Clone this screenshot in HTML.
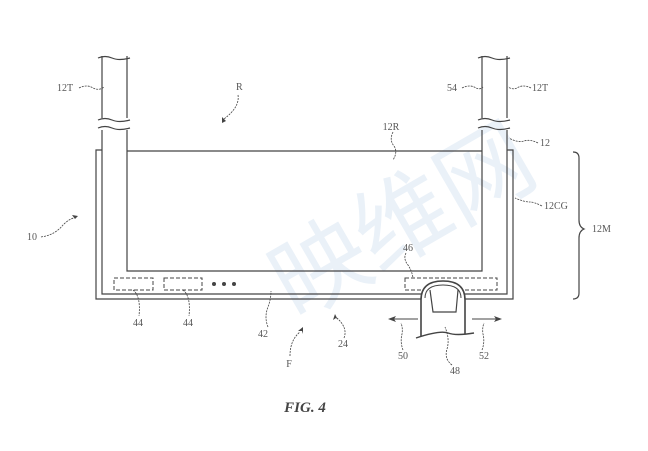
<!DOCTYPE html>
<html><head><meta charset="utf-8"><style>html,body{margin:0;padding:0;background:#fff}svg{display:block}</style></head>
<body>
<svg width="648" height="451" viewBox="0 0 648 451" xmlns="http://www.w3.org/2000/svg" font-family="Liberation Serif, serif" fill="#555" font-size="10">
<text x="250" y="290" font-family="Noto Sans CJK SC, sans-serif" font-size="95" fill="#eaf1f8" transform="rotate(-30 330 220)">映维网</text>
<g fill="none" stroke="#444" stroke-width="1.2">
<path d="M102 150 H96 V299 H513 V150 H507"/>
<path d="M102 130 V294 H507 V130"/>
<path d="M102 118 V56 M507 118 V56"/>
<path d="M127 130 V271 H482 V130 M127 118 V56 M482 118 V56"/>
<path d="M127 151 H482"/>
<path d="M98 58 q7 -3 14 0 t18 0"/>
<path d="M98 120 q7 -3 14 0 t18 0"/>
<path d="M98 128 q7 -3 14 0 t18 0"/>
<path d="M478 58 q7 -3 14 0 t18 0"/>
<path d="M478 120 q7 -3 14 0 t18 0"/>
<path d="M478 128 q7 -3 14 0 t18 0"/>
<g stroke-dasharray="4 2" stroke-width="1">
<rect x="114" y="278" width="39" height="12"/>
<rect x="164" y="278" width="38" height="12"/>
<rect x="405" y="278" width="92" height="12"/>
</g>
<path d="M421 336 V300 Q421 281 443 281 Q465 281 465 300 V334" fill="#fff" stroke-width="1.6"/>
<path d="M425 298 Q425 285 443 285 Q461 285 461 298" stroke-width="1"/>
<path d="M430 290 L433 312 H456 L458 290" stroke-width="1.2"/>
<path d="M416 338 Q440 330 448 333 T474 333" stroke-width="1.4"/>
<path d="M573 152 q6 0 6 6 V220 q0 7 5 9 q-5 2 -5 9 V293 q0 6 -6 6"/>
<g stroke-width="0.8" stroke-dasharray="2 1">
<path d="M79 88 q8 -4 14 0 q6 3 11 -1"/>
<path d="M462 88 q8 -4 14 0 q4 2 7 -1"/>
<path d="M531 88 q-8 -4 -14 0 q-4 2 -9 -1"/>
<path d="M538 143 q-8 -4 -14 -2 q-6 2 -15 -3"/>
<path d="M542 206 q-8 -4 -12 -4 q-6 0 -15 -4"/>
<path d="M238 95 q2 12 -14 24"/>
<path d="M41 237 q14 -2 22 -12 q6 -6 11 -7"/>
<path d="M393 132 q-4 8 1 14 q4 6 -1 14"/>
<path d="M406 253 q-3 6 2 12 q4 6 5 13"/>
<path d="M133 290 q8 6 6 26"/>
<path d="M183 290 q8 6 6 26"/>
<path d="M268 327 q-4 -10 0 -20 q3 -8 3 -16"/>
<path d="M290 356 q0 -16 10 -24"/>
<path d="M344 338 q4 -10 -7 -20"/>
<path d="M403 350 q-3 -8 -1 -16 q1 -6 -1 -11"/>
<path d="M482 350 q3 -8 1 -16 q-1 -6 1 -11"/>
<path d="M452 365 q-8 -6 -5 -16 q3 -10 -2 -22"/>
</g>
<path d="M418 319 H392 M472 319 H498" stroke-width="1"/>
</g>
<g fill="#444">
<path d="M388 319 l8 -3 l-2 3 l2 3z"/>
<path d="M502 319 l-8 -3 l2 3 l-2 3z"/>
<path d="M222 123 l0 -6 l4 4z"/>
<path d="M78 216 l-6 -1 l3 4z"/>
<path d="M303 327 l-5 4 l4 0 l1 3z"/>
<path d="M335 314 l-2 6 l3 -2 l2 2z"/>
<circle cx="214" cy="284" r="2"/><circle cx="224" cy="284" r="2"/><circle cx="234" cy="284" r="2"/>
</g>
<text x="57" y="91">12T</text>
<text x="236" y="90">R</text>
<text x="447" y="91">54</text>
<text x="532" y="91">12T</text>
<text x="391" y="130" text-anchor="middle">12R</text>
<text x="540" y="146">12</text>
<text x="544" y="209">12CG</text>
<text x="592" y="232">12M</text>
<text x="27" y="240">10</text>
<text x="408" y="251" text-anchor="middle">46</text>
<text x="138" y="326" text-anchor="middle">44</text>
<text x="188" y="326" text-anchor="middle">44</text>
<text x="263" y="337" text-anchor="middle">42</text>
<text x="289" y="367" text-anchor="middle">F</text>
<text x="343" y="347" text-anchor="middle">24</text>
<text x="403" y="359" text-anchor="middle">50</text>
<text x="484" y="359" text-anchor="middle">52</text>
<text x="455" y="374" text-anchor="middle">48</text>
<text x="305" y="412" text-anchor="middle" font-size="15" font-style="italic" font-weight="bold" fill="#444">FIG. 4</text>
</svg>
</body></html>
